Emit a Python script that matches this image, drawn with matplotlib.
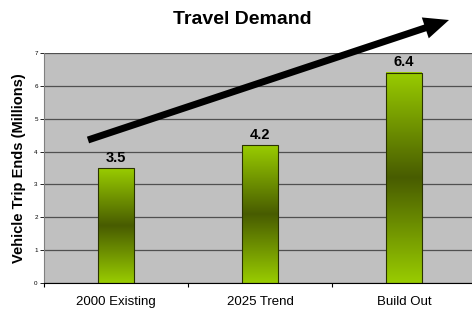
import matplotlib.pyplot as plt
import numpy as np
from matplotlib.colors import LinearSegmentedColormap
from matplotlib.patches import FancyArrow

plt.rcParams['font.family'] = ['Liberation Sans', 'DejaVu Sans']

categories = ["2000 Existing", "2025 Trend", "Build Out"]
values = [3.5, 4.2, 6.4]
labels = ["3.5", "4.2", "6.4"]

fig = plt.figure(figsize=(4.72, 3.11), dpi=100)
ax = fig.add_axes([44/472, 1-283/311, 432/472, 230/311])
ax.set_facecolor("#C0C0C0")

# gradient light-dark-light along the height of each bar
cmap = LinearSegmentedColormap.from_list("g", ["#99CC00", "#485C00", "#99CC00"])
grad = np.linspace(0, 1, 256).reshape(-1, 1)

x = np.arange(len(categories))
w = 0.245
bars = ax.bar(x, values, width=w, color="none", edgecolor="#2a3300", linewidth=0.8, zorder=3)
for b in bars:
    bx, by = b.get_x(), b.get_y()
    ax.imshow(grad, cmap=cmap, aspect="auto", origin="lower",
              extent=[bx, bx + b.get_width(), by, by + b.get_height()], zorder=2)
for xi, v, t in zip(x, values, labels):
    ax.text(xi, v + 0.1, t, ha="center", va="bottom", fontsize=10.5, fontweight="bold")

ax.set_xlim(-0.5, 2.5)
ax.set_ylim(0, 7)
ax.set_yticks(range(8))
ax.yaxis.grid(True, color="#505050", linewidth=0.9)
ax.set_axisbelow(True)
ax.tick_params(axis="y", labelsize=4.5, length=3, width=0.6, pad=1.5)
ax.set_xticks([-0.5, 0.5, 1.5, 2.5])
ax.set_xticklabels([])
ax.set_xticks(x, minor=True)
ax.set_xticklabels(categories, minor=True)
ax.tick_params(axis="x", which="major", length=3, width=0.8)
ax.tick_params(axis="x", which="minor", length=0, labelsize=9.5, pad=9.5)
for s in ["top", "right"]:
    ax.spines[s].set_visible(False)
ax.spines["left"].set_color("#808080")
ax.spines["bottom"].set_color("black")

ax.set_ylabel("Vehicle Trip Ends (Millions)", fontsize=10.5, fontweight="bold", labelpad=6)
fig.text(242/472, 1-20/311, "Travel Demand", ha="center", va="center", fontsize=14, fontweight="bold")

# big trend arrow across the chart, drawn in pixel coordinates
ax_arrow = fig.add_axes([0, 0, 1, 1], facecolor="none")
ax_arrow.set_xlim(0, 472)
ax_arrow.set_ylim(311, 0)
ax_arrow.axis("off")
x0, y0, x1, y1 = 88, 140, 449, 20
ax_arrow.add_patch(FancyArrow(x0, y0, x1 - x0, y1 - y0, width=7, head_width=22,
                              head_length=25, length_includes_head=True,
                              color="black", lw=0))

fig.savefig("out.png", dpi=100)
